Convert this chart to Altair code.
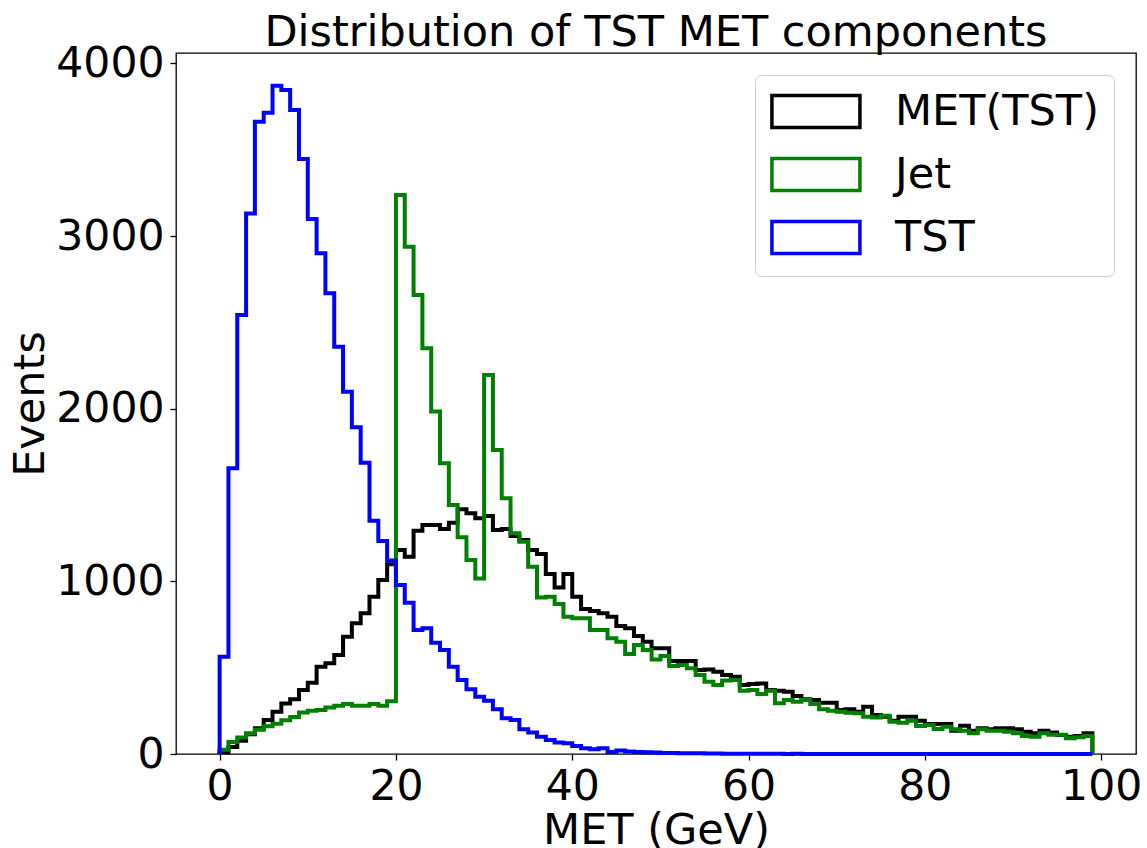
import altair as alt
import pandas as pd

# bin edges 0..99 (99 bins of width 1)
edges = list(range(0, 100))
series = ["MET(TST)", "Jet", "TST"]
colors = ["#000000", "#008000", "#0000ff"]

met_tst = [10, 40, 77, 114, 149, 197, 245, 293, 317, 371,
           413, 506, 525, 573, 679, 757, 815, 911, 1008, 1099,
           1181, 1143, 1293, 1326, 1326, 1303, 1340, 1417, 1394, 1365,
           1378, 1297, 1303, 1263, 1239, 1181, 1158, 1042, 965, 1042,
           911, 840, 828, 815, 795, 741, 728, 683, 650, 612,
           612, 539, 539, 539, 486, 490, 477, 458, 448, 400,
           405, 409, 371, 367, 361, 336, 317, 313, 297, 297,
           255, 259, 245, 274, 226, 216, 193, 216, 216, 193,
           174, 174, 174, 135, 164, 135, 149, 143, 149, 149,
           143, 129, 120, 135, 124, 110, 100, 104, 120]

jet = [25, 70, 95, 120, 140, 160, 175, 195, 215, 240,
       250, 255, 270, 280, 290, 280, 280, 290, 280, 305,
       3237, 2938, 2658, 2350, 1983, 1684, 1442, 1255, 1124, 1017,
       2195, 1761, 1481, 1278, 1230, 1085, 907, 911, 869, 795,
       786, 786, 718, 718, 670, 650, 579, 631, 602, 548,
       568, 510, 515, 496, 458, 419, 400, 425, 429, 367,
       371, 348, 367, 294, 313, 303, 313, 290, 259, 251,
       245, 239, 236, 216, 212, 222, 187, 181, 193, 162,
       168, 145, 158, 143, 135, 120, 143, 135, 135, 129,
       120, 104, 100, 120, 112, 112, 91, 97, 104]

tst = [563, 1655, 2542, 3131, 3662, 3714, 3870, 3845, 3730, 3446,
       3098, 2900, 2668, 2359, 2098, 1892, 1687, 1351, 1234, 1120,
       979, 876, 718, 728, 645, 602, 506, 429, 375, 332,
       309, 259, 207, 197, 143, 124, 100, 81, 66, 62,
       46, 33, 27, 33, 12, 20, 14, 12, 10, 8,
       6, 6, 5, 4, 5, 3, 3, 2, 2, 1,
       1, 1, 1, 1, 0, 1, 0, 0, 0, 0,
       0, 0, 0, 0, 0, 0, 0, 0, 0, 0,
       0, 0, 0, 0, 0, 0, 0, 0, 0, 0,
       0, 0, 0, 0, 0, 0, 0, 0, 0]

x_ticks = [0, 20, 40, 60, 80, 100]
y_ticks = [0, 1000, 2000, 3000, 4000]

rows = []
for name, counts in zip(series, [met_tst, jet, tst]):
    pts = [(edges[0], 0)] + [(edges[i], c) for i, c in enumerate(counts)] \
          + [(edges[-1], counts[-1]), (edges[-1], 0)]
    for k, (x, y) in enumerate(pts):
        rows.append({"series": name, "x": x, "y": y, "idx": k})
df = pd.DataFrame(rows)

FONT = "DejaVu Sans"

legend = alt.Legend(
    title=None,
    orient="top-right",
    offset=22,
    symbolType="M-1.78,-1.454L6.22,-1.454L6.22,1.454L-1.78,1.454Z",
    symbolSize=484,
    symbolStrokeWidth=3.5,
    symbolFillColor="transparent",
    labelFontSize=43,
    labelFont=FONT,
    labelColor="black",
    labelOffset=82,
    labelLimit=500,
    padding=15,
    rowPadding=16,
    fillColor="white",
    strokeColor="#cccccc",
    cornerRadius=6,
)

chart = alt.Chart(df).mark_line(interpolate="step-after", strokeWidth=4).encode(
    x=alt.X("x:Q",
            scale=alt.Scale(domain=[-4.95, 103.95], nice=False, zero=False),
            axis=alt.Axis(values=x_ticks, title="MET (GeV)", labelPadding=5,
                          titlePadding=2, format="d")),
    y=alt.Y("y:Q",
            scale=alt.Scale(domain=[0, 4060], nice=False),
            axis=alt.Axis(values=y_ticks, title="Events", labelPadding=6,
                          titlePadding=3, format="d")),
    color=alt.Color("series:N", scale=alt.Scale(domain=series, range=colors),
                    legend=legend),
    order=alt.Order("idx:Q"),
).properties(
    width=960,
    height=701,
    title=alt.Title("Distribution of TST MET components", fontSize=43, font=FONT,
                    fontWeight="normal", color="black", anchor="middle", offset=8,
                    dy=21),
    autosize=alt.AutoSizeParams(type="none"),
    padding={"left": 176, "top": 53, "right": 11, "bottom": 94},
).configure(
    background="white"
).configure_view(
    stroke="black", strokeWidth=1.3
).configure_axis(
    grid=False, domain=False, tickColor="black", tickWidth=1.3, tickSize=6,
    labelFont=FONT, labelFontSize=42.5, labelColor="black",
    titleFont=FONT, titleFontSize=43, titleFontWeight="normal", titleColor="black",
)

chart.save("out.html", embed_options={"renderer": "svg", "actions": False})
